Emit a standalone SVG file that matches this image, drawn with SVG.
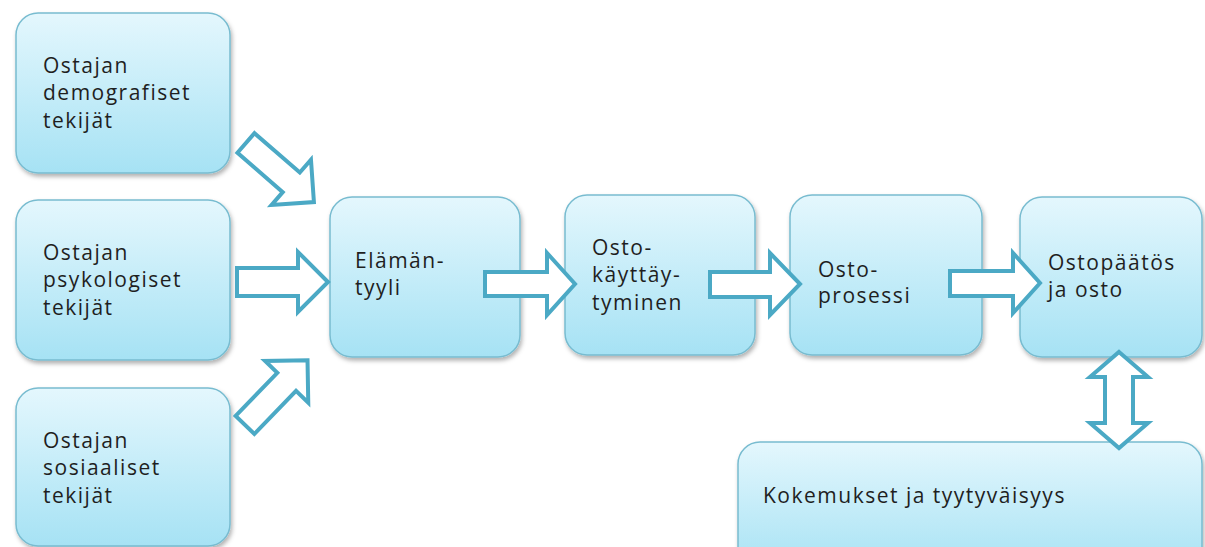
<svg xmlns="http://www.w3.org/2000/svg" width="1205" height="547" viewBox="0 0 1205 547">
<defs>
<linearGradient id="bg" x1="0" y1="0" x2="0" y2="1">
<stop offset="0" stop-color="#E4F7FD"/>
<stop offset="1" stop-color="#A6E2F4"/>
</linearGradient>
<filter id="sh" x="-10%" y="-10%" width="125%" height="130%">
<feDropShadow dx="1.5" dy="3" stdDeviation="2" flood-color="#000" flood-opacity="0.3"/>
</filter>
</defs>
<style>
.box{fill:url(#bg);stroke:#78BCD0;stroke-width:1.5;filter:url(#sh)}
.t{font-family:"Open Sans","Liberation Sans",sans-serif;font-size:21px;letter-spacing:1.5px;fill:#1f1f1f}
.ar{fill:#fff;stroke:#4BA9C5;stroke-width:4;stroke-linejoin:miter}
</style>
<rect width="1205" height="547" fill="#fff"/>
<g id="n1"><rect class="box" x="16" y="13" width="214" height="160" rx="22"/>
<text class="t" x="43" y="73">Ostajan</text><text class="t" x="43" y="100">demografiset</text><text class="t" x="43" y="128">tekijät</text></g>
<g id="n2"><rect class="box" x="16" y="200" width="214" height="160" rx="22"/>
<text class="t" x="43" y="260">Ostajan</text><text class="t" x="43" y="287">psykologiset</text><text class="t" x="43" y="315">tekijät</text></g>
<g id="n3"><rect class="box" x="16" y="388" width="214" height="158" rx="22"/>
<text class="t" x="43" y="448">Ostajan</text><text class="t" x="43" y="475">sosiaaliset</text><text class="t" x="43" y="503">tekijät</text></g>
<g id="n4"><rect class="box" x="330" y="197" width="190" height="160" rx="22"/>
<text class="t" x="355" y="268">Elämän-</text><text class="t" x="355" y="295">tyyli</text></g>
<g id="n5"><rect class="box" x="565" y="195" width="190" height="160" rx="22"/>
<text class="t" x="592" y="255">Osto-</text><text class="t" x="592" y="282">käyttäy-</text><text class="t" x="592" y="310">tyminen</text></g>
<g id="n6"><rect class="box" x="790" y="195" width="192" height="160" rx="22"/>
<text class="t" x="818" y="277">Osto-</text><text class="t" x="818" y="303">prosessi</text></g>
<g id="n7"><rect class="box" x="1020" y="197" width="182" height="160" rx="22"/>
<text class="t" x="1048" y="270">Ostopäätös</text><text class="t" x="1048" y="297">ja osto</text></g>
<g id="n8"><rect class="box" x="738" y="442" width="464" height="130" rx="22"/>
<text class="t" x="763" y="503">Kokemukset ja tyytyväisyys</text></g>
<g id="connectors">
<path class="ar" transform="translate(246,143) rotate(41)" d="M0,-13 H60 V-30 L90,0 L60,30 V13 H0 Z"/>
<path class="ar" d="M237,268 H298 V252 L328,282 L298,312 V296 H237 Z"/>
<path class="ar" transform="translate(245,425) rotate(-46)" d="M0,-13 H60 V-30 L90,0 L60,30 V13 H0 Z"/>
<path class="ar" d="M485,272 H547 V253 L575,284 L547,315 V296 H485 Z"/>
<path class="ar" d="M710,272 H770 V253 L800,284 L770,315 V297 H710 Z"/>
<path class="ar" d="M950,271 H1013 V253 L1040,283 L1013,313 V296 H950 Z"/>
<path class="ar" d="M1119,352 L1148,377 L1133,377 L1133,423 L1148,423 L1119,448 L1090,423 L1105,423 L1105,377 L1090,377 Z"/>
</g>
</svg>
